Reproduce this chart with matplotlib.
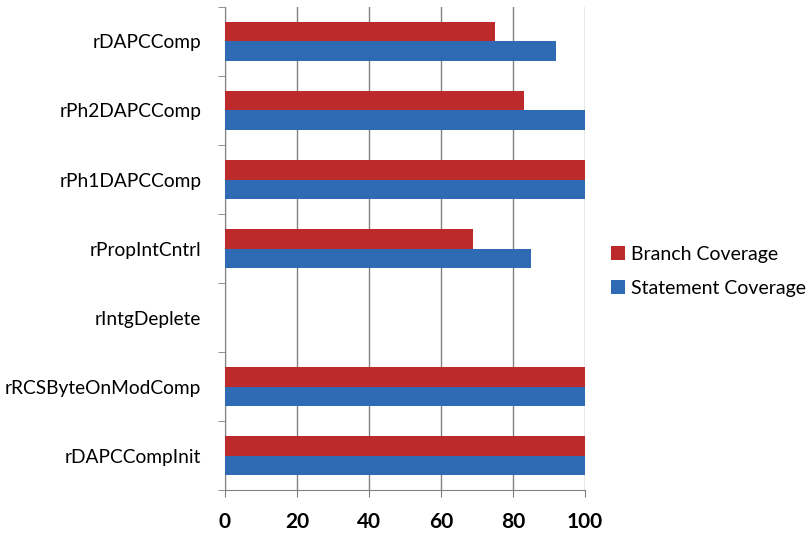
import matplotlib
matplotlib.use('Agg')
import matplotlib.pyplot as plt
from matplotlib.ticker import FixedLocator
import numpy as np

plt.rcParams['font.family'] = ['Lato', 'DejaVu Sans']

modules = ["rDAPCComp", "rPh2DAPCComp", "rPh1DAPCComp", "rPropIntCntrl",
           "rIntgDeplete", "rRCSByteOnModComp", "rDAPCCompInit"]
branch_cov = [75, 83, 100, 69, 0, 100, 100]
statement_cov = [92, 100, 100, 85, 0, 100, 100]
x_ticks = [0, 20, 40, 60, 80, 100]

red = '#BD2A2B'
blue = '#2F6BB5'

fig = plt.figure(figsize=(8.09, 5.34), dpi=100)
ax = fig.add_axes([0.278, 0.082, 0.445, 0.905])

n = len(modules)
y = np.arange(n)[::-1]
h = 0.285
ax.barh(y + h / 2, branch_cov, height=h, color=red, label="Branch Coverage", zorder=3)
ax.barh(y - h / 2, statement_cov, height=h, color=blue, label="Statement Coverage", zorder=3)

ax.set_xlim(0, 100)
ax.set_ylim(-0.5, n - 0.5)
ax.set_xticks(x_ticks)
ax.set_xticklabels([str(t) for t in x_ticks], fontsize=15, fontweight='bold')
ax.set_yticks(y)
ax.set_yticklabels(modules, fontsize=13.8)
ax.yaxis.set_minor_locator(FixedLocator(np.arange(-0.5, n, 1.0)))
ax.tick_params(axis='y', which='major', length=0, pad=17)
ax.tick_params(axis='y', which='minor', length=5, color='#808080', direction='out')
ax.tick_params(axis='x', length=5, color='#808080', direction='out', pad=11)

ax.grid(axis='x', color='#808080', linewidth=1.0, zorder=0)
for side in ['top', 'right']:
    ax.spines[side].set_visible(False)
for side in ['left', 'bottom']:
    ax.spines[side].set_color('#808080')

ax.legend(loc='center left', bbox_to_anchor=(1.052, 0.453), frameon=False,
          fontsize=14, handlelength=0.7, handleheight=0.7, handletextpad=0.3,
          labelspacing=0.85, borderaxespad=0)

fig.savefig('out.png', dpi=100)
